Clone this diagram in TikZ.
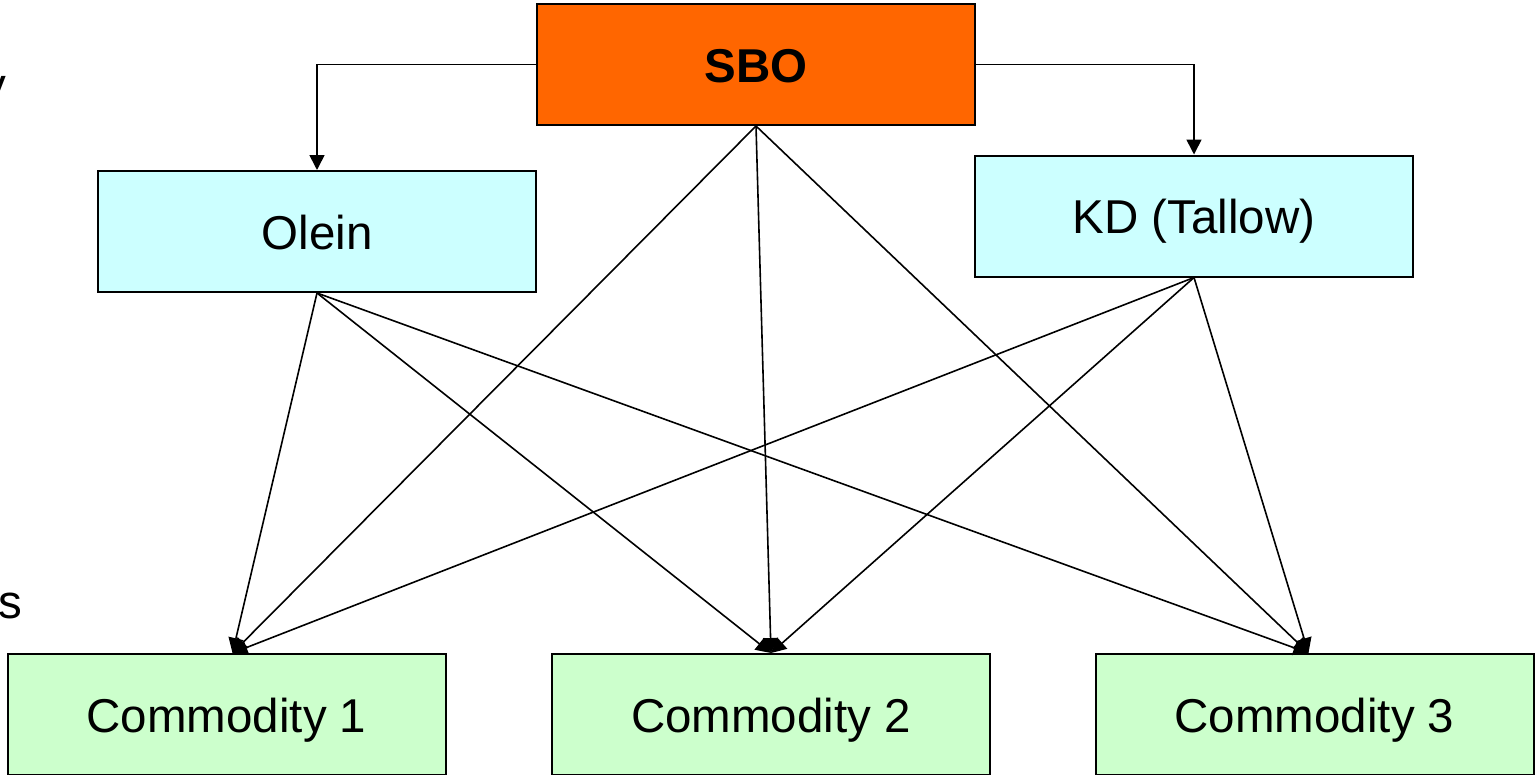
\documentclass[tikz,border=0pt]{standalone}
\usepackage{fontspec}
\setmainfont{Liberation Sans}
\usetikzlibrary{arrows.meta}
\definecolor{sbo}{HTML}{FF6600}
\definecolor{mid}{HTML}{CCFFFF}
\definecolor{com}{HTML}{CCFFCC}
\begin{document}
\begin{tikzpicture}[x=1pt,y=-1pt,
  box/.style={draw=black,line width=2pt,minimum width=438pt,minimum height=121pt,inner sep=0pt,
    text height=35pt,text depth=0pt,font=\fontsize{47.5}{56}\selectfont},
  conn/.style={line width=1.6pt,-{Triangle[length=15pt,width=15pt]}},
  frag/.style={inner sep=0pt,font=\fontsize{47.5}{56}\selectfont}]
\useasboundingbox (0,0) rectangle (1537,774);
\node[box,fill=sbo,font=\fontsize{47.5}{56}\selectfont\bfseries] (SBO) at (756,64.5) {SBO};
\node[box,fill=mid] (Olein) at (317,231.5) {Olein};
\node[box,fill=mid] (KD) at (1194,216) {KD (Tallow)};
\node[box,fill=com] (C1) at (226.5,714.5) {Commodity 1};
\node[box,fill=com] (C2) at (771,714.5) {Commodity 2};
\node[box,fill=com] (C3) at (1314.5,714.5) {Commodity 3};
\node[frag,anchor=base east] (fy) at (6,101) {y};
\node[frag,anchor=base east] (fs) at (22,618) {s};
\coordinate (t1) at ([xshift=6pt]C1.north);
\coordinate (t2) at (C2.north);
\coordinate (t3) at ([xshift=-6pt]C3.north);
\draw[conn] (SBO.west) -| (Olein.north);
\draw[conn] (SBO.east) -| (KD.north);
\foreach \s in {SBO,Olein,KD}{
  \foreach \t in {t1,t2,t3}{
    \draw[conn] (\s.south) -- (\t);
  }
}
\end{tikzpicture}
\end{document}
